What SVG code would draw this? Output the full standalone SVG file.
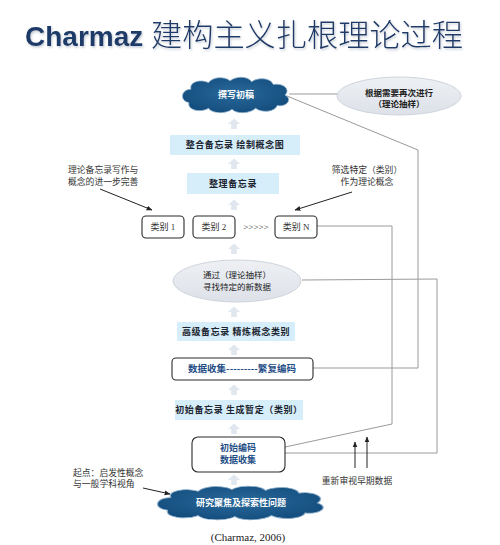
<svg xmlns="http://www.w3.org/2000/svg" width="500" height="545" viewBox="0 0 500 545">
<defs>
<style>
.title{font-family:"Liberation Sans","Noto Sans CJK SC",sans-serif;fill:#1d3a68}
.cj{font-family:"Noto Sans CJK SC",sans-serif}
.box{fill:#d6eef9}
.bt{font-family:"Noto Sans CJK SC",sans-serif;font-size:9px;font-weight:bold;fill:#1c2430;text-anchor:middle;letter-spacing:0.6px}
.rbox{fill:#fff;stroke:#2a2a2a;stroke-width:1.1}
.cat{font-family:"Liberation Serif","Noto Sans CJK SC",serif;font-size:9px;fill:#333;text-anchor:middle}
.ann{font-family:"Liberation Serif","Noto Sans CJK SC",serif;font-size:8.8px;fill:#333}
.ell{fill:url(#eg);stroke:#cfd4dc;stroke-width:1}
.et{font-family:"Noto Sans CJK SC",sans-serif;font-size:8.5px;fill:#222;text-anchor:middle}
.cloud{fill:url(#cg);stroke:#8fb0cc;stroke-width:0.8;vector-effect:non-scaling-stroke}
.ct{font-family:"Noto Sans CJK SC",sans-serif;font-size:9px;font-weight:bold;fill:#fff;text-anchor:middle}
.blue{font-family:"Noto Sans CJK SC",sans-serif;font-size:9px;font-weight:bold;fill:#1f4e86;text-anchor:middle}
.conn{fill:none;stroke:#9a9a9a;stroke-width:1}
.pt{fill:none;stroke:#222;stroke-width:1}
.up{fill:#e1e7ee}
</style>
<radialGradient id="cg" cx="50%" cy="45%" r="60%">
<stop offset="0" stop-color="#2a6a9c"/>
<stop offset="1" stop-color="#124c7c"/>
</radialGradient>
<linearGradient id="eg" x1="0" y1="0" x2="0" y2="1">
<stop offset="0" stop-color="#eef0f4"/>
<stop offset="1" stop-color="#dde1e8"/>
</linearGradient>
<marker id="ah" viewBox="0 0 10 10" refX="9" refY="5" markerWidth="6" markerHeight="6" orient="auto">
<path d="M0,1 L10,5 L0,9 z" fill="#222"/>
</marker>
<filter id="sh" x="-5%" y="-20%" width="110%" height="140%">
<feDropShadow dx="1" dy="1.5" stdDeviation="1" flood-color="#9aa6b8" flood-opacity="0.6"/>
</filter>
<path id="cloudp" d="M -48 8 C -58 6 -56 -6 -46 -6 C -48 -14 -36 -17 -28 -13 C -24 -19 -12 -20 -6 -15 C 0 -20 12 -20 16 -14 C 22 -19 36 -18 38 -11 C 48 -13 56 -6 50 0 C 58 4 52 13 42 11 C 40 18 26 19 20 14 C 14 20 0 20 -4 15 C -10 20 -24 20 -28 14 C -36 19 -50 16 -48 8 Z"/>
<polygon id="uparrow" points="0,-5.5 6,0 2.8,0 2.8,5 -2.8,5 -2.8,0 -6,0"/>
</defs>
<rect width="500" height="545" fill="#fff"/>

<g id="title" filter="url(#sh)">
<text class="title" x="25" y="46" font-size="28" font-weight="bold">Charmaz</text>
<text class="title cj" x="151" y="46" font-size="31" font-weight="300" textLength="312" lengthAdjust="spacingAndGlyphs">建构主义扎根理论过程</text>
</g>

<g id="flow-arrows" class="up">
<use href="#uparrow" x="234" y="124"/>
<use href="#uparrow" x="234" y="164"/>
<use href="#uparrow" x="234" y="205"/>
<use href="#uparrow" x="234" y="249"/>
<use href="#uparrow" x="234" y="312"/>
<use href="#uparrow" x="234" y="350"/>
<use href="#uparrow" x="234" y="390"/>
<use href="#uparrow" x="234" y="429"/>
<use href="#uparrow" x="234" y="480"/>
</g>

<g id="connectors">
<line class="conn" x1="289" y1="94" x2="338" y2="94"/>
<polyline class="conn" points="287,96 418,150 418,368 313,368"/>
<polyline class="conn" points="317,226 392,226 392,424 285,447"/>
<polyline class="conn" points="302,280 437,279 437,453 285,453"/>
<line class="pt" x1="100" y1="189" x2="152" y2="210" marker-end="url(#ah)"/>
<line class="pt" x1="352" y1="192" x2="295" y2="210" marker-end="url(#ah)"/>
<line class="pt" x1="143" y1="488" x2="170" y2="494" marker-end="url(#ah)"/>
<line class="pt" x1="355" y1="468" x2="355" y2="442" marker-end="url(#ah)"/>
<line class="pt" x1="367" y1="468" x2="367" y2="437" marker-end="url(#ah)"/>
</g>

<g id="node-draft">
<use href="#cloudp" class="cloud" transform="translate(236,95) scale(0.98,0.95)"/>
<text class="ct" x="236" y="98">撰写初稿</text>
</g>

<g id="node-resample">
<ellipse class="ell" cx="399" cy="96" rx="62" ry="19"/>
<text class="et" x="399" y="96" font-weight="bold">根据需要再次进行</text>
<text class="et" x="399" y="107" font-weight="bold">（理论抽样）</text>
</g>

<g id="node-integrate">
<rect class="box" x="170" y="135" width="130" height="20"/>
<text class="bt" x="235" y="148">整合备忘录 绘制概念图</text>
</g>

<g id="node-sort">
<rect class="box" x="187" y="173" width="92" height="21"/>
<text class="bt" x="233" y="187">整理备忘录</text>
</g>

<g id="note-left">
<text class="ann" x="68" y="173">理论备忘录写作与</text>
<text class="ann" x="68" y="185">概念的进一步完善</text>
</g>

<g id="note-right">
<text class="ann" x="367" y="173" text-anchor="middle">筛选特定（类别）</text>
<text class="ann" x="367" y="185" text-anchor="middle">作为理论概念</text>
</g>

<g id="node-cat1">
<rect class="rbox" x="142" y="216" width="42" height="22" rx="4"/>
<text class="cat" x="163" y="230">类别 1</text>
</g>
<g id="node-cat2">
<rect class="rbox" x="193" y="216" width="42" height="22" rx="4"/>
<text class="cat" x="214" y="230">类别 2</text>
</g>
<g id="node-dots">
<text class="cat" x="256" y="230" fill="#888">&gt;&gt;&gt;&gt;&gt;</text>
</g>
<g id="node-catN">
<rect class="rbox" x="275" y="216" width="42" height="22" rx="4"/>
<text class="cat" x="296" y="230">类别 N</text>
</g>

<g id="node-sampling">
<ellipse class="ell" cx="237" cy="281" rx="64" ry="21"/>
<text class="et" x="237" y="278">通过（理论抽样）</text>
<text class="et" x="237" y="290">寻找特定的新数据</text>
</g>

<g id="node-advanced">
<rect class="box" x="177" y="322" width="118" height="19"/>
<text class="bt" x="236" y="335">高级备忘录 精炼概念类别</text>
</g>

<g id="node-collect">
<rect class="rbox" x="172" y="358" width="141" height="22" rx="4"/>
<text class="blue" x="242" y="372" textLength="108" lengthAdjust="spacingAndGlyphs">数据收集---------繁复编码</text>
</g>

<g id="node-initial-memo">
<rect class="box" x="175" y="400" width="128" height="20"/>
<text class="bt" x="239" y="413" letter-spacing="0.2">初始备忘录 生成暂定（类别）</text>
</g>

<g id="node-initial-code">
<rect class="rbox" x="192" y="437" width="93" height="35" rx="6"/>
<text class="blue" x="238" y="451">初始编码</text>
<text class="blue" x="238" y="463">数据收集</text>
</g>

<g id="note-review">
<text class="ann" x="357" y="484" text-anchor="middle">重新审视早期数据</text>
</g>

<g id="note-start">
<text class="ann" x="73" y="476">起点：启发性概念</text>
<text class="ann" x="73" y="487">与一般学科视角</text>
</g>

<g id="node-focus">
<use href="#cloudp" class="cloud" transform="translate(241,503) scale(1.53,0.9)"/>
<text class="ct" x="241" y="506" font-weight="normal" font-size="9.5">研究聚焦及探索性问题</text>
</g>

<g id="citation">
<text x="248" y="541" font-family="Liberation Serif, serif" font-size="11" fill="#222" text-anchor="middle">(Charmaz, 2006)</text>
</g>
</svg>
